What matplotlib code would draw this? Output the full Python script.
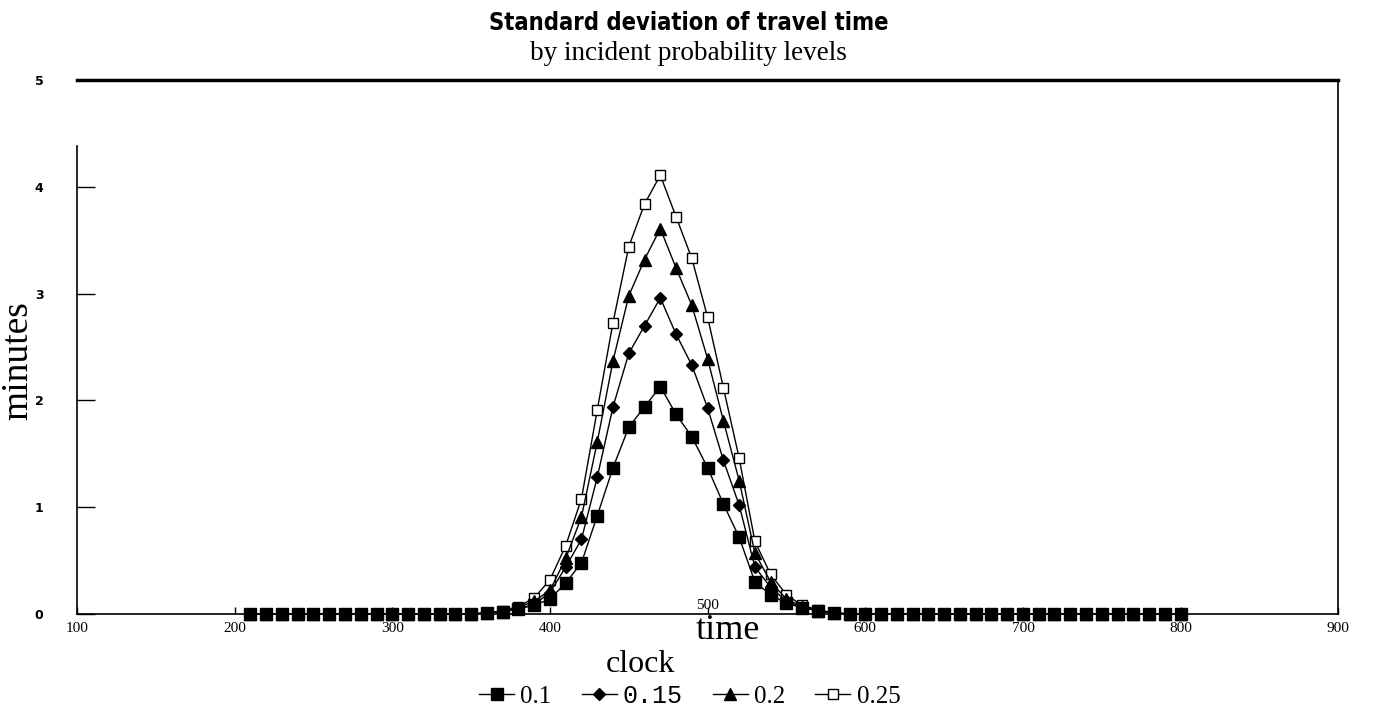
import matplotlib

matplotlib.use("Agg")
import matplotlib.pyplot as plt

# clock time, one point every 10 units
clock = list(range(210, 810, 10))

p10 = [0.0, 0.0, 0.0, 0.0, 0.0, 0.0, 0.0, 0.0, 0.0, 0.0, 0.0, 0.0, 0.0, 0.0, 0.0, 0.01,
       0.02, 0.05, 0.08, 0.14, 0.29, 0.48, 0.92, 1.37, 1.75, 1.94, 2.13, 1.87, 1.66, 1.37,
       1.03, 0.72, 0.30, 0.18, 0.10, 0.06, 0.03,
       0.01, 0.0, 0.0, 0.0, 0.0, 0.0, 0.0, 0.0, 0.0, 0.0, 0.0, 0.0, 0.0, 0.0, 0.0, 0.0,
       0.0, 0.0, 0.0, 0.0, 0.0, 0.0, 0.0]
p15 = [0.0, 0.0, 0.0, 0.0, 0.0, 0.0, 0.0, 0.0, 0.0, 0.0, 0.0, 0.0, 0.0, 0.0, 0.0, 0.01,
       0.02, 0.05, 0.09, 0.20, 0.44, 0.70, 1.28, 1.94, 2.44, 2.70, 2.96, 2.62, 2.33, 1.93,
       1.44, 1.02, 0.44, 0.25, 0.12, 0.06, 0.03,
       0.01, 0.0, 0.0, 0.0, 0.0, 0.0, 0.0, 0.0, 0.0, 0.0, 0.0, 0.0, 0.0, 0.0, 0.0, 0.0,
       0.0, 0.0, 0.0, 0.0, 0.0, 0.0, 0.0]
p20 = [0.0, 0.0, 0.0, 0.0, 0.0, 0.0, 0.0, 0.0, 0.0, 0.0, 0.0, 0.0, 0.0, 0.0, 0.0, 0.01,
       0.02, 0.06, 0.12, 0.22, 0.52, 0.91, 1.61, 2.37, 2.98, 3.32, 3.61, 3.24, 2.89, 2.39,
       1.81, 1.25, 0.57, 0.30, 0.14, 0.07, 0.03,
       0.01, 0.0, 0.0, 0.0, 0.0, 0.0, 0.0, 0.0, 0.0, 0.0, 0.0, 0.0, 0.0, 0.0, 0.0, 0.0,
       0.0, 0.0, 0.0, 0.0, 0.0, 0.0, 0.0]
p25 = [0.0, 0.0, 0.0, 0.0, 0.0, 0.0, 0.0, 0.0, 0.0, 0.0, 0.0, 0.0, 0.0, 0.0, 0.0, 0.01,
       0.03, 0.07, 0.15, 0.32, 0.64, 1.08, 1.91, 2.73, 3.44, 3.84, 4.11, 3.72, 3.33, 2.78,
       2.12, 1.46, 0.68, 0.37, 0.18, 0.08, 0.04,
       0.01, 0.0, 0.0, 0.0, 0.0, 0.0, 0.0, 0.0, 0.0, 0.0, 0.0, 0.0, 0.0, 0.0, 0.0, 0.0,
       0.0, 0.0, 0.0, 0.0, 0.0, 0.0, 0.0]

labels = ["0.1", "0.15", "0.2", "0.25"]
xticks = [100, 200, 300, 400, 500, 600, 700, 800, 900]
yticks = [0, 1, 2, 3, 4, 5]

SERIF = ["Liberation Serif", "DejaVu Serif"]

fig = plt.figure(figsize=(13.74, 7.22), dpi=100)
ax = fig.add_axes([0.056, 0.1496, 0.918, 0.7394])

styles = [
    dict(marker="s", ms=8, mfc="black"),
    dict(marker="D", ms=6.5, mfc="black"),
    dict(marker="^", ms=8.5, mfc="black"),
    dict(marker="s", ms=7.5, mfc="white"),
]
series = [p10, p15, p20, p25]
# 0.1 ends up on top, like the filled squares along the baseline
for i, (ys, lab, st) in enumerate(zip(series, labels, styles)):
    ax.plot(clock, ys, color="black", lw=1.0, mec="black", mew=1.0, label=lab,
            clip_on=False, zorder=10 - i, **st)

ax.set_xlim(100, 900)
ax.set_ylim(0, 5)
ax.set_xticks(xticks)
ax.set_xticklabels([str(t) if t != 500 else "" for t in xticks], family=SERIF, fontsize=11)
ax.set_yticks(yticks)
ax.set_yticklabels([str(t) for t in yticks], fontsize=9, fontweight="bold")
ax.tick_params(axis="y", direction="in", length=13, width=1, pad=24)
ax.tick_params(axis="x", direction="in", length=5, width=1, pad=6)

ax.spines["top"].set_linewidth(2.5)
ax.spines["left"].set_bounds(0, 4.38)
for s in ["left", "bottom", "right"]:
    ax.spines[s].set_linewidth(1.2)

ax.text(500, 0.02, "500", ha="center", va="bottom", family=SERIF, fontsize=11)
fig.text(0.530, 0.127, "time", ha="center", va="center", family=SERIF, fontsize=26)
fig.text(0.466, 0.079, "clock", ha="center", va="center", family=SERIF, fontsize=23)
fig.text(0.013, 0.50, "minutes", ha="center", va="center", rotation=90, family=SERIF, fontsize=27)

fig.text(0.501, 0.968, "Standard deviation of travel time", ha="center", va="center",
         family="DejaVu Sans", fontstretch="condensed", fontweight="bold", fontsize=17)
fig.text(0.501, 0.926, "by incident probability levels", ha="center", va="center",
         family=SERIF, fontsize=19.5)

leg = fig.legend(loc="center", bbox_to_anchor=(0.502, 0.036), ncol=4, frameon=False,
                 handlelength=1.4, handletextpad=0.25, columnspacing=1.2,
                 prop={"family": SERIF, "size": 18})
leg.get_texts()[1].set_family(["Liberation Mono", "DejaVu Sans Mono"])

fig.savefig("out.png", dpi=100)
plt.close(fig)
